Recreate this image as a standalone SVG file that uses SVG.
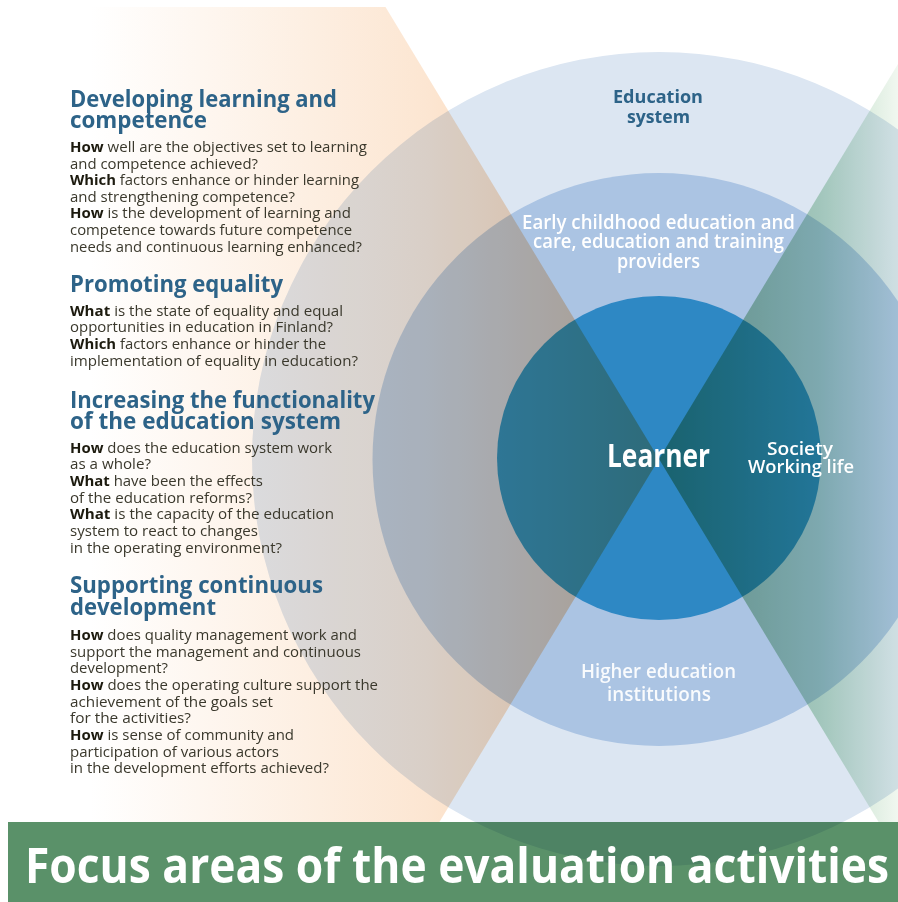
<svg xmlns="http://www.w3.org/2000/svg" width="898" height="902" viewBox="0 0 898 902">
<defs>
<linearGradient id="gOrange" gradientUnits="userSpaceOnUse" x1="90" y1="0" x2="650" y2="0">
<stop offset="0" stop-color="#ffffff"/>
<stop offset="0.6" stop-color="#fce6d2"/>
<stop offset="1" stop-color="#fccaa0"/>
</linearGradient>
<linearGradient id="gGreen" gradientUnits="userSpaceOnUse" x1="659" y1="0" x2="900" y2="0">
<stop offset="0" stop-color="#8cb88f"/>
<stop offset="0.67" stop-color="#bcdcc6"/>
<stop offset="1" stop-color="#f2f8f1"/>
</linearGradient>
<style>
.mul{mix-blend-mode:multiply}
text{font-family:"Open Sans","Noto Sans","Liberation Sans",sans-serif}
.h{font-size:23px;font-weight:700;fill:#2d6388}
.b{font-size:14.5px;font-weight:400;fill:#3a382c}
.b tspan{font-weight:700;fill:#1c1a0e}
.lbl{font-size:19px;font-weight:600;fill:#ffffff}
.lblb{font-size:18px;font-weight:700;fill:#2d6388}
</style>
</defs>
<rect width="898" height="902" fill="#ffffff"/>
<g id="rings">
<circle id="outer-ring" cx="659" cy="459" r="407" fill="#dce6f2"/>
<circle id="middle-ring" cx="659" cy="459.5" r="286.5" fill="#abc4e3"/>
<circle id="inner-circle" cx="659" cy="458" r="162" fill="#2e88c4"/>
</g>
<g id="wedges">
<polygon id="wedge-orange" class="mul" points="0,7 385.5,7 659,459 439.4,822 0,822" fill="url(#gOrange)"/>
<polygon id="wedge-green" class="mul" points="940,7 932.5,7 659,459 878.6,822 940,822" fill="url(#gGreen)"/>
</g>
<g id="banner">
<rect class="mul" x="8" y="822" width="890" height="80" fill="#5a9169"/>
<text x="25" y="883" textLength="864" lengthAdjust="spacingAndGlyphs" style="font-size:48px;font-weight:700;fill:#ffffff">Focus areas of the evaluation activities</text>
</g>
<g id="circle-labels">
<g id="education-system">
<text class="lblb" x="613" y="103" textLength="90" lengthAdjust="spacingAndGlyphs">Education</text>
<text class="lblb" x="627" y="123" textLength="63" lengthAdjust="spacingAndGlyphs">system</text>
</g>
<g id="providers">
<text class="lbl" x="522" y="229" textLength="273" lengthAdjust="spacingAndGlyphs">Early childhood education and</text>
<text class="lbl" x="533" y="248" textLength="251" lengthAdjust="spacingAndGlyphs">care, education and training</text>
<text class="lbl" x="617" y="268" textLength="83" lengthAdjust="spacingAndGlyphs">providers</text>
</g>
<g id="learner">
<text x="607" y="467" textLength="103" lengthAdjust="spacingAndGlyphs" style="font-size:32px;font-weight:700;fill:#ffffff">Learner</text>
</g>
<g id="society">
<text class="lbl" style="font-size:18px" x="767" y="455" textLength="66" lengthAdjust="spacingAndGlyphs">Society</text>
<text class="lbl" style="font-size:18px" x="748" y="473" textLength="106" lengthAdjust="spacingAndGlyphs">Working life</text>
</g>
<g id="higher-education">
<text class="lbl" x="581" y="678" textLength="155" lengthAdjust="spacingAndGlyphs" fill-opacity="0.92">Higher education</text>
<text class="lbl" x="607" y="701" textLength="104" lengthAdjust="spacingAndGlyphs" fill-opacity="0.92">institutions</text>
</g>
</g>
<g id="focus-developing">
<text class="h" x="70" y="107" textLength="267" lengthAdjust="spacingAndGlyphs">Developing learning and</text>
<text class="h" x="70" y="128" textLength="137" lengthAdjust="spacingAndGlyphs">competence</text>
<text class="b" x="70" y="152" textLength="297" lengthAdjust="spacingAndGlyphs"><tspan>How</tspan> well are the objectives set to learning</text>
<text class="b" x="70" y="168.5" textLength="188" lengthAdjust="spacingAndGlyphs">and competence achieved?</text>
<text class="b" x="70" y="185" textLength="289" lengthAdjust="spacingAndGlyphs"><tspan>Which</tspan> factors enhance or hinder learning</text>
<text class="b" x="70" y="201.5" textLength="225" lengthAdjust="spacingAndGlyphs">and strengthening competence?</text>
<text class="b" x="70" y="218" textLength="281" lengthAdjust="spacingAndGlyphs"><tspan>How</tspan> is the development of learning and</text>
<text class="b" x="70" y="235" textLength="282" lengthAdjust="spacingAndGlyphs">competence towards future competence</text>
<text class="b" x="70" y="251.5" textLength="292" lengthAdjust="spacingAndGlyphs">needs and continuous learning enhanced?</text>
</g>
<g id="focus-equality">
<text class="h" x="70" y="292" textLength="213" lengthAdjust="spacingAndGlyphs">Promoting equality</text>
<text class="b" x="70" y="315.7" textLength="273" lengthAdjust="spacingAndGlyphs"><tspan>What</tspan> is the state of equality and equal</text>
<text class="b" x="70" y="332.3" textLength="263" lengthAdjust="spacingAndGlyphs">opportunities in education in Finland?</text>
<text class="b" x="70" y="349" textLength="256" lengthAdjust="spacingAndGlyphs"><tspan>Which</tspan> factors enhance or hinder the</text>
<text class="b" x="70" y="365.7" textLength="288" lengthAdjust="spacingAndGlyphs">implementation of equality in education?</text>
</g>
<g id="focus-functionality">
<text class="h" x="70" y="408" textLength="305" lengthAdjust="spacingAndGlyphs">Increasing the functionality</text>
<text class="h" x="70" y="429" textLength="271" lengthAdjust="spacingAndGlyphs">of the education system</text>
<text class="b" x="70" y="452.7" textLength="262" lengthAdjust="spacingAndGlyphs"><tspan>How</tspan> does the education system work</text>
<text class="b" x="70" y="469.3" textLength="81" lengthAdjust="spacingAndGlyphs">as a whole?</text>
<text class="b" x="70" y="486" textLength="193" lengthAdjust="spacingAndGlyphs"><tspan>What</tspan> have been the effects</text>
<text class="b" x="70" y="502.7" textLength="182" lengthAdjust="spacingAndGlyphs">of the education reforms?</text>
<text class="b" x="70" y="519.3" textLength="264" lengthAdjust="spacingAndGlyphs"><tspan>What</tspan> is the capacity of the education</text>
<text class="b" x="70" y="536" textLength="188" lengthAdjust="spacingAndGlyphs">system to react to changes</text>
<text class="b" x="70" y="552.7" textLength="212" lengthAdjust="spacingAndGlyphs">in the operating environment?</text>
</g>
<g id="focus-continuous">
<text class="h" x="70" y="593" textLength="253" lengthAdjust="spacingAndGlyphs">Supporting continuous</text>
<text class="h" x="70" y="615" textLength="146" lengthAdjust="spacingAndGlyphs">development</text>
<text class="b" x="70" y="640" textLength="287" lengthAdjust="spacingAndGlyphs"><tspan>How</tspan> does quality management work and</text>
<text class="b" x="70" y="656.7" textLength="291" lengthAdjust="spacingAndGlyphs">support the management and continuous</text>
<text class="b" x="70" y="673.3" textLength="98" lengthAdjust="spacingAndGlyphs">development?</text>
<text class="b" x="70" y="690" textLength="308" lengthAdjust="spacingAndGlyphs"><tspan>How</tspan> does the operating culture support the</text>
<text class="b" x="70" y="706.7" textLength="203" lengthAdjust="spacingAndGlyphs">achievement of the goals set</text>
<text class="b" x="70" y="723.3" textLength="121" lengthAdjust="spacingAndGlyphs">for the activities?</text>
<text class="b" x="70" y="740" textLength="224" lengthAdjust="spacingAndGlyphs"><tspan>How</tspan> is sense of community and</text>
<text class="b" x="70" y="756.7" textLength="209" lengthAdjust="spacingAndGlyphs">participation of various actors</text>
<text class="b" x="70" y="773.3" textLength="259" lengthAdjust="spacingAndGlyphs">in the development efforts achieved?</text>
</g>
</svg>
